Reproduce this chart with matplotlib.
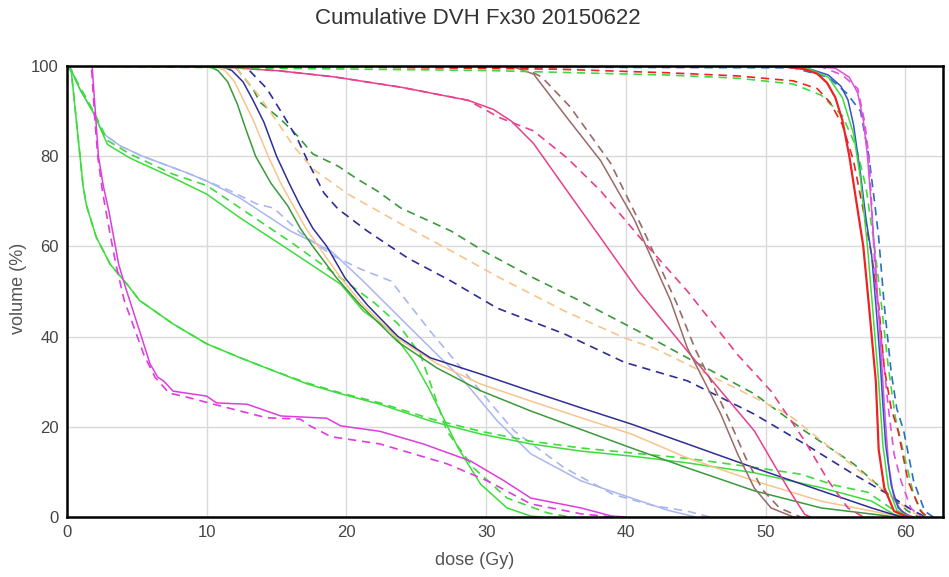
import matplotlib
matplotlib.use("Agg")
import matplotlib.pyplot as plt

# dose (Gy), volume (%) pairs, one list per curve
red_plan = [(0, 100), (50, 100), (51.5, 99.8), (52.8, 99.3), (53.7, 98.3), (54.4, 96.3), (55, 93), (55.5, 88),
            (56, 80), (56.5, 70), (57, 60), (57.4, 47), (57.9, 30), (58.1, 15), (58.5, 6.5), (59.2, 1.3),
            (60.2, 0)]
red_eval = [(0, 100), (20, 99.8), (35, 99.3), (43, 98.5), (48, 97.8), (52, 96.7), (53.7, 95), (54.6, 92),
            (55.5, 87), (56.3, 79), (57, 68), (57.6, 58), (58.1, 47), (58.5, 33), (59, 24), (59.5, 19),
            (60.2, 8), (61.1, 1.3), (61.6, 0)]
green_hi_plan = [(0, 100), (51, 100), (53, 99.5), (54.5, 97.5), (55.5, 93), (56.3, 85), (56.8, 75), (57.3, 60),
                 (57.7, 45), (58.1, 30), (58.4, 16), (58.8, 6.5), (59.4, 1.5), (60.3, 0)]
green_hi_eval = [(0, 100), (15, 99.5), (30, 99), (43, 98), (48, 97.3), (52, 96), (54, 93.5), (55.5, 89),
                 (56.5, 82), (57.2, 73), (57.8, 60), (58.3, 47), (58.8, 33), (59.3, 22), (59.9, 14),
                 (60.6, 5), (61.3, 0.5), (61.8, 0)]
blue_plan = [(0, 100), (51, 100), (53, 99.5), (54.5, 98), (55.4, 95.5), (55.9, 92.5), (56.3, 87), (56.8, 76),
             (57.2, 66), (57.6, 58), (57.9, 47), (58.2, 35), (58.4, 25), (58.6, 16), (59, 7), (59.5, 2),
             (60.3, 0)]
blue_eval = [(0, 100), (52, 99.6), (54.5, 97.5), (55.8, 94), (56.8, 90), (57.4, 80), (57.8, 70), (58.1, 62),
             (58.5, 47), (59, 32), (59.4, 24), (59.9, 19), (60.6, 8), (61.4, 1.3), (62, 0)]
magenta_hi_plan = [(0, 100), (53, 100), (55, 99.5), (56, 97.5), (56.6, 94), (57, 88), (57.3, 80), (57.6, 68),
                   (57.9, 55), (58.2, 40), (58.5, 25), (58.8, 12), (59.2, 4), (59.8, 1), (60.6, 0)]
magenta_hi_eval = [(0, 100), (54, 99.8), (55.5, 98), (56.6, 95), (57.1, 87.5), (57.4, 80), (57.6, 69),
                   (57.9, 51), (58.4, 36), (58.8, 24), (59.2, 14), (59.7, 8), (60.4, 2), (60.9, 0.5), (61.3, 0)]

navy_plan = [(0, 100), (11, 100), (11.8, 99), (12.6, 96.5), (13.3, 92.5), (14.1, 87.5), (15, 80), (15.9, 74),
             (16.7, 69), (17.6, 64), (18.6, 60), (19.9, 53), (21.5, 47), (23.7, 40), (26, 35.3), (29.6, 31.7),
             (33.2, 27.9), (36.8, 24.2), (40.4, 20.6), (44.4, 16.2), (49.2, 10.9), (54, 5.8), (57.6, 2),
             (59.5, 0.2), (60, 0)]
navy_eval = [(0, 100), (12.5, 100), (12.9, 99.5), (14.3, 95), (15.5, 89), (16.5, 83.8), (17.4, 77.8),
             (18.4, 71.8), (19.4, 68.3), (21.5, 63.4), (24.4, 57.4), (27.5, 52.3), (30.8, 46.3), (35.6, 40.6),
             (39.9, 34.3), (44.4, 30.2), (49.2, 22.8), (52.8, 16.2), (56.3, 9.5), (58.8, 5), (60.6, 1.3),
             (61.5, 0)]
peach_plan = [(0, 100), (10.5, 100), (11.3, 99), (12, 96.5), (12.7, 92), (13.4, 87.5), (14.4, 80), (15.3, 74),
              (16.2, 69), (17.1, 64), (18, 60), (19.6, 53), (21.2, 47), (23.7, 39.5), (26.5, 34), (29.6, 29.5),
              (33.2, 25.7), (36.8, 22), (40.4, 18.4), (44.4, 13.1), (49.2, 8), (54, 3.5), (58.8, 0.6),
              (59.5, 0)]
peach_eval = [(0, 100), (12, 100), (13.6, 94), (15.1, 87.4), (16.2, 82.3), (17.6, 77.2), (20.1, 71.6),
              (23.9, 65), (27.5, 59), (31, 53), (35.6, 45.7), (39.9, 39.7), (42, 37.5), (46.8, 30.2),
              (51.6, 22.8), (55.2, 14), (58.8, 5), (60.5, 1), (61.5, 0)]
darkgreen_plan = [(0, 100), (10.1, 100), (10.8, 99), (11.5, 96.5), (12.2, 91.5), (12.8, 86), (13.5, 80),
                  (14.6, 74), (15.8, 69), (16.7, 64), (17.6, 60), (19.3, 53), (21, 47), (23.7, 38.8), (26.5, 33),
                  (29.6, 28), (33.2, 23.5), (36.8, 19.4), (40.4, 15.3), (44.4, 10.9), (49.2, 5.8), (54, 2),
                  (58.8, 0.2), (59.3, 0)]
darkgreen_eval = [(0, 100), (12, 100), (13.3, 95), (13.8, 92), (15.3, 88.2), (16.5, 84.5), (17.6, 80.5),
                  (19.4, 77.8), (20.8, 74.9), (22.2, 72.3), (23.9, 68.5), (27.5, 63.4), (29.8, 59),
                  (33.4, 53), (37, 47.5), (40.9, 41.2), (44.4, 35.3), (49.2, 27.3), (52.8, 19.1),
                  (56.3, 11.8), (58.8, 5), (60.2, 1.3), (61, 0)]

pink_plan = [(0, 100), (8, 100), (12, 99.6), (15.3, 98.9), (19.1, 97.6), (23.9, 95.3), (28.7, 92.4),
             (30.5, 90.4), (31.8, 87.8), (33.4, 82.8), (35.8, 72.3), (38.2, 61.9), (40.9, 50.1), (44.4, 36.8),
             (49.2, 19.1), (51.6, 6.4), (52.8, 0.6), (53.2, 0)]
pink_eval = [(0, 100), (8, 100), (12, 99.6), (15.3, 98.9), (19.1, 97.6), (23.9, 95.3), (28.7, 92.4),
             (31, 88.5), (33.4, 85.6), (35.8, 79.6), (38.2, 72.3), (41, 62), (44.4, 50.1), (48, 36),
             (50.4, 27.9), (52.8, 16.9), (54.5, 8), (55.9, 2), (57, 0)]
brown_plan = [(0, 100), (31.8, 100), (33.4, 98.2), (35.8, 88.5), (38.2, 79), (40.6, 66), (43.2, 48),
              (44.4, 37.5), (45.6, 30.2), (46.8, 22.8), (48, 14), (49.2, 6.4), (50.4, 2), (52, 0)]
brown_eval = [(0, 100), (32.5, 100), (34, 97.5), (36, 91), (38.9, 78.5), (41.2, 64), (43.7, 47),
              (45, 37), (46.2, 29.5), (47.4, 21.5), (48.6, 13), (49.8, 6), (51, 2), (52.5, 0)]

lavender_plan = [(0, 100), (0.2, 100), (0.9, 95), (1.9, 89.6), (2.6, 85), (3.8, 82.3), (5.4, 80), (8.6, 76.3),
                 (10, 74.5), (12.4, 70.7), (16, 63.4), (18.9, 59), (21.2, 52.3), (24.8, 41.2), (28.4, 30.2),
                 (30.8, 21.3), (33.2, 14), (36.8, 8), (40.4, 4.2), (43, 1.5), (45, 0)]
lavender_eval = [(0, 100), (0.2, 100), (0.9, 95), (1.9, 89.6), (2.6, 85), (3.8, 82.3), (5.4, 80), (8.6, 76.3),
                 (11.7, 72.3), (13.6, 69.4), (14.8, 68.5), (16.7, 63), (19, 58), (21, 55), (23.2, 52.3),
                 (26, 41.2), (29.6, 27.9), (32, 19.1), (35.6, 10.9), (39.1, 5), (42, 2.5), (44.4, 1.3), (46, 0)]
green_b_plan = [(0, 100), (0.3, 99), (0.9, 95), (1.9, 89.6), (2.9, 82.6), (4.5, 79.6), (7.6, 75.2),
                (10, 71.6), (12.4, 66.3), (16, 59), (19.6, 51.6), (21.2, 45.7), (23.2, 41.2), (24.8, 34.6),
                (26, 27.9), (28, 15.3), (29.6, 7.3), (31.5, 2), (33.2, 0.2), (34, 0)]
green_b_eval = [(0, 100), (0.3, 99), (0.9, 95.5), (1.9, 90), (2.9, 83.5), (4.5, 80.5), (7.6, 76), (10, 73.5),
                (12.4, 68.5), (16, 61), (19.6, 53), (22, 47.5), (23.7, 42.8), (25.3, 36), (27.2, 19),
                (29.1, 10.9), (31.5, 4.2), (34.4, 0.9), (36, 0)]
green_a_plan = [(0, 100), (0.3, 99), (0.6, 90), (1.15, 73.4), (1.4, 69), (2.1, 62), (3.1, 56), (4.3, 51.6),
                (5.2, 48), (7.6, 42.8), (10, 38.4), (12.4, 35.3), (14.8, 32.4), (17.2, 29.5), (19.6, 27.3),
                (22.4, 25), (26, 21.3), (29.6, 18.4), (33.2, 16.2), (36.8, 14.6), (40.4, 13.5), (44.4, 12),
                (49.2, 9.8), (54, 6.5), (57.6, 3.5), (59.2, 0.6), (60, 0)]
green_a_eval = [(0, 100), (0.3, 99), (0.6, 90), (1.15, 73.4), (1.4, 69), (2.1, 62), (3.1, 56), (4.3, 51.6),
                (5.2, 48), (7.6, 42.8), (10, 38.4), (12.4, 35.3), (14.8, 32.4), (17.2, 29.7), (19.6, 27.5),
                (22.4, 25.3), (26, 21.8), (29.6, 19), (33.2, 16.8), (36.8, 15.3), (40.4, 14.2), (44.4, 13),
                (49.2, 11), (52.5, 9.5), (55, 7), (57.3, 5.5), (58.5, 3), (59.5, 0.8), (60.3, 0)]
magenta_lo_plan = [(0, 100), (1.8, 100), (2.0, 91), (2.25, 80), (2.6, 73.4), (3.0, 67.8), (3.7, 56), (4.2, 50.8),
                   (5.2, 41.2), (5.95, 33.9), (6.5, 31), (6.9, 30.2), (7.6, 27.9), (10, 26.8), (10.7, 25.3),
                   (12.9, 25), (15.3, 22.4), (18.6, 21.9), (19.6, 20.2), (22.4, 19), (25.5, 16.2), (28.9, 12.4),
                   (31.3, 8), (33.2, 4.2), (36.8, 2), (39, 0.2), (40, 0)]
magenta_lo_eval = [(0, 100), (1.75, 100), (1.95, 90), (2.2, 80), (2.55, 72), (2.95, 65), (3.5, 56), (4.1, 48),
                   (4.8, 42), (5.5, 36), (6.3, 31), (7.3, 27.5), (8.8, 26.4), (10.5, 25), (12.4, 23.5),
                   (14.3, 22), (16.7, 21.7), (17.4, 20.2), (18.9, 17.8), (22.4, 16.2), (27.2, 11.8),
                   (30.1, 8), (33.2, 2.9), (36.8, 0.7), (39, 0)]

x_ticks = [0, 10, 20, 30, 40, 50, 60]
y_ticks = [0, 20, 40, 60, 80, 100]
x_max = 62.7

# (curve, colour, dashed?) in drawing order
curves = [
    (lavender_plan, "#aab6f0", False), (lavender_eval, "#aab6f0", True),
    (green_b_plan, "#3ddc3d", False), (green_b_eval, "#3ddc3d", True),
    (green_a_plan, "#3ddc3d", False), (green_a_eval, "#3ddc3d", True),
    (magenta_lo_plan, "#dd3ddd", False), (magenta_lo_eval, "#dd3ddd", True),
    (darkgreen_eval, "#3a9a3a", True), (peach_eval, "#f8c48c", True), (navy_eval, "#2e2e96", True),
    (darkgreen_plan, "#3a9a3a", False), (peach_plan, "#f8c48c", False), (navy_plan, "#2e2e96", False),
    (pink_eval, "#e8408a", True), (pink_plan, "#e8408a", False),
    (brown_eval, "#9a6a66", True), (brown_plan, "#9a6a66", False),
    (blue_eval, "#2a70c0", True), (green_hi_eval, "#3ddc3d", True),
    (magenta_hi_eval, "#e050e0", True), (red_eval, "#ee2222", True),
    (magenta_hi_plan, "#e050e0", False), (blue_plan, "#3350c8", False),
    (green_hi_plan, "#3ddc3d", False), (red_plan, "#ee2222", False),
]

plt.rcParams["font.family"] = ["Liberation Sans", "DejaVu Sans"]

fig = plt.figure(figsize=(9.49, 5.77), dpi=100)
ax = fig.add_axes([0.0706, 0.104, 0.923, 0.7816])

for pts, color, dashed in curves:
    dose = [p[0] for p in pts]
    vol = [p[1] for p in pts]
    if dashed:
        ax.plot(dose, vol, color=color, lw=1.2, linestyle=(0, (5, 3.5)))
    else:
        ax.plot(dose, vol, color=color, lw=1.6 if color == "#ee2222" else 1.1)

ax.set_xlim(0, x_max)
ax.set_ylim(0, 100)
ax.set_xticks(x_ticks)
ax.set_yticks(y_ticks)
ax.grid(True, color="#d9d9d9", lw=1)
ax.set_axisbelow(True)
ax.tick_params(length=0, labelsize=12, labelcolor="#444444", pad=6)
for s in ax.spines.values():
    s.set_color("black")
    s.set_linewidth(1.8)

fig.text(0.503, 0.968, "Cumulative DVH Fx30 20150622", ha="center", va="center", fontsize=16, color="#333333")
fig.text(0.5, 0.028, "dose (Gy)", ha="center", va="center", fontsize=13, color="#555555")
fig.text(0.019, 0.5, "volume (%)", ha="center", va="center", rotation=90, fontsize=13, color="#555555")

fig.savefig("out.png", dpi=100)
plt.close(fig)
